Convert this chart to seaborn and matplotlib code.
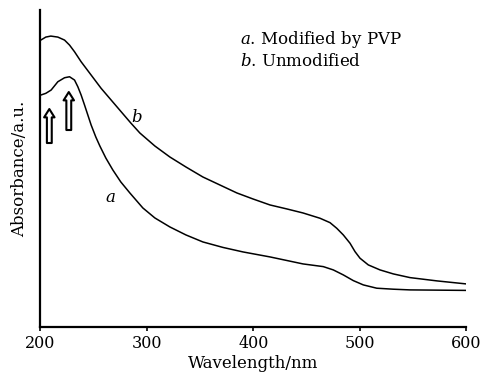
import numpy as np
import pandas as pd
import matplotlib
matplotlib.use('Agg')
import matplotlib.pyplot as plt
import seaborn as sns

# Curve a: modified by PVP
wl_a = [200.3, 205.0, 210.0, 216.3, 222.6, 227.3, 232.0, 235.1, 238.2, 241.4, 244.5, 247.6,
        252.0, 255.8, 261.4, 268.0, 275.5, 284.0, 296.2, 307.5, 321.6, 336.7, 352.6, 371.5,
        390.3, 415.7, 446.7, 465.8, 475.2, 484.6, 494.0, 503.4, 516.0, 531.6, 547.3, 600]
abs_a = [2.32, 2.337, 2.37, 2.453, 2.493, 2.503, 2.47, 2.403, 2.32, 2.22, 2.12, 2.02,
         1.90, 1.81, 1.69, 1.57, 1.45, 1.34, 1.19, 1.09, 1.00, 0.92, 0.85, 0.795,
         0.75, 0.70, 0.63, 0.603, 0.57, 0.52, 0.463, 0.42, 0.387, 0.377, 0.37, 0.365]

# Curve b: unmodified
wl_b = [200.3, 205.0, 209.7, 216.3, 222.6, 227.3, 232.0, 238.2, 247.6, 257.0, 266.4, 275.8,
        284.9, 293.4, 307.5, 321.6, 336.7, 352.6, 368.6, 384.6, 399.7, 415.7, 431.6, 446.7,
        462.7, 472.1, 478.4, 484.6, 490.9, 495.6, 500.3, 508.1, 519.1, 531.6, 547.3, 572.7, 600]
abs_b = [2.87, 2.90, 2.91, 2.90, 2.87, 2.82, 2.753, 2.653, 2.52, 2.387, 2.27, 2.153,
         2.04, 1.94, 1.81, 1.70, 1.60, 1.50, 1.42, 1.34, 1.28, 1.22, 1.18, 1.14,
         1.087, 1.043, 0.987, 0.92, 0.837, 0.753, 0.687, 0.62, 0.57, 0.53, 0.493, 0.46, 0.43]

x_ticks = [200, 300, 400, 500, 600]
legend_lines = [('a', 'Modified by PVP'), ('b', 'Unmodified')]

df = pd.concat([
    pd.DataFrame({'wl': wl_a, 'abs': abs_a, 'curve': 'a'}),
    pd.DataFrame({'wl': wl_b, 'abs': abs_b, 'curve': 'b'}),
])

sns.set_style('ticks')
plt.rcParams['font.family'] = ['DejaVu Serif']
plt.rcParams['text.color'] = 'black'
plt.rcParams['axes.labelcolor'] = 'black'
plt.rcParams['xtick.color'] = 'black'
plt.rcParams['mathtext.fontset'] = 'dejavuserif'

fig = plt.figure(figsize=(4.82, 3.74), dpi=100)
ax = fig.add_axes([0.084, 0.126, 0.883, 0.847])

sns.lineplot(data=df, x='wl', y='abs', units='curve', estimator=None,
             color='black', lw=1.1, sort=False, ax=ax)

ax.set_xlim(200, 600)
ax.set_ylim(0, 3.17)
ax.set_xticks(x_ticks)
ax.set_xticklabels([str(t) for t in x_ticks], fontsize=11.5)
ax.set_yticks([])
ax.tick_params(axis='x', length=3, width=1.2, pad=3, direction='out')
ax.set_xlabel('Wavelength/nm', fontsize=12, labelpad=2)
ax.set_ylabel('Absorbance/a.u.', fontsize=12, labelpad=9)
sns.despine(ax=ax)
for s in ['left', 'bottom']:
    ax.spines[s].set_linewidth(1.6)
    ax.spines[s].set_color('black')

# hollow arrows marking the peaks
for x, y0, y1 in [(208.3, 1.84, 2.18), (226.6, 1.97, 2.35)]:
    ax.annotate('', xy=(x, y1), xytext=(x, y0),
                arrowprops=dict(arrowstyle='simple,head_length=0.6,head_width=0.75,tail_width=0.35',
                                mutation_scale=10, fc='white', ec='black', lw=1.5,
                                shrinkA=0, shrinkB=0))

# curve labels
ax.text(290.6, 2.10, 'b', fontsize=12, style='italic', ha='center', va='center')
ax.text(266.1, 1.29, 'a', fontsize=12, style='italic', ha='center', va='center')

# legend text
for i, (k, lab) in enumerate(legend_lines):
    ax.text(387.4, 2.83 - i * 0.22, f'$\\mathit{{{k}}}$. {lab}', fontsize=12,
            ha='left', va='baseline')

fig.savefig('out.png', dpi=100)
